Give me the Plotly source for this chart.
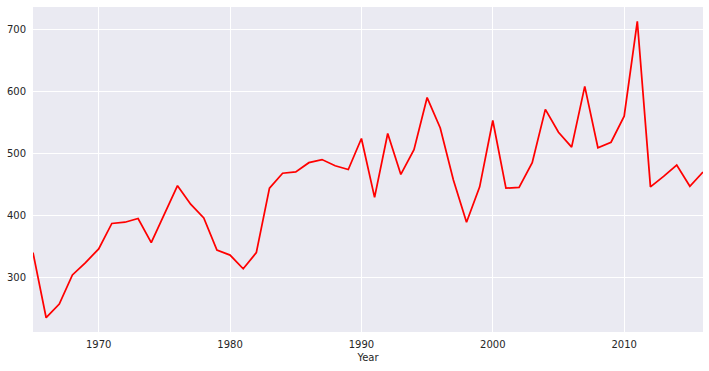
import plotly.graph_objects as go

years = list(range(1965, 2017))
values = [340, 235, 257, 304, 324, 346, 387, 389, 395, 356,
          402, 448, 418, 396, 344, 336, 314, 340, 444, 468,
          470, 485, 490, 480, 474, 524, 429, 532, 466, 506,
          590, 541, 457, 389, 446, 553, 444, 445, 485, 571,
          534, 510, 608, 509, 518, 560, 713, 446, 463, 481,
          447, 470]

x_ticks = [1970, 1980, 1990, 2000, 2010]
y_ticks = [300, 400, 500, 600, 700]

fig = go.Figure()
fig.add_trace(go.Scatter(x=years, y=values, mode="lines",
                         line=dict(color="#FF0000", width=1.75), showlegend=False))

font = dict(family="DejaVu Sans", size=10, color="#262626")
fig.update_layout(
    width=709, height=371,
    margin=dict(l=33, r=6, t=7, b=39),
    paper_bgcolor="white", plot_bgcolor="#EAEAF2",
    font=font,
    xaxis=dict(range=[1965, 2016], tickvals=x_ticks, ticktext=[str(t) for t in x_ticks],
               showgrid=True, gridcolor="white", gridwidth=1, zeroline=False,
               showline=False, ticks="outside", ticklen=3, tickcolor="rgba(0,0,0,0)",
               tickfont=font,
               title=dict(text="Year", font=font, standoff=4)),
    yaxis=dict(range=[212, 736], tickvals=y_ticks, ticktext=[str(t) for t in y_ticks],
               showgrid=True, gridcolor="white", gridwidth=1, zeroline=False,
               showline=False, ticks="outside", ticklen=4, tickcolor="rgba(0,0,0,0)",
               tickfont=font),
)
fig.write_html("out.html", config={"displayModeBar": False},
               post_script="document.body.style.margin='0';document.body.style.overflow='hidden';")
